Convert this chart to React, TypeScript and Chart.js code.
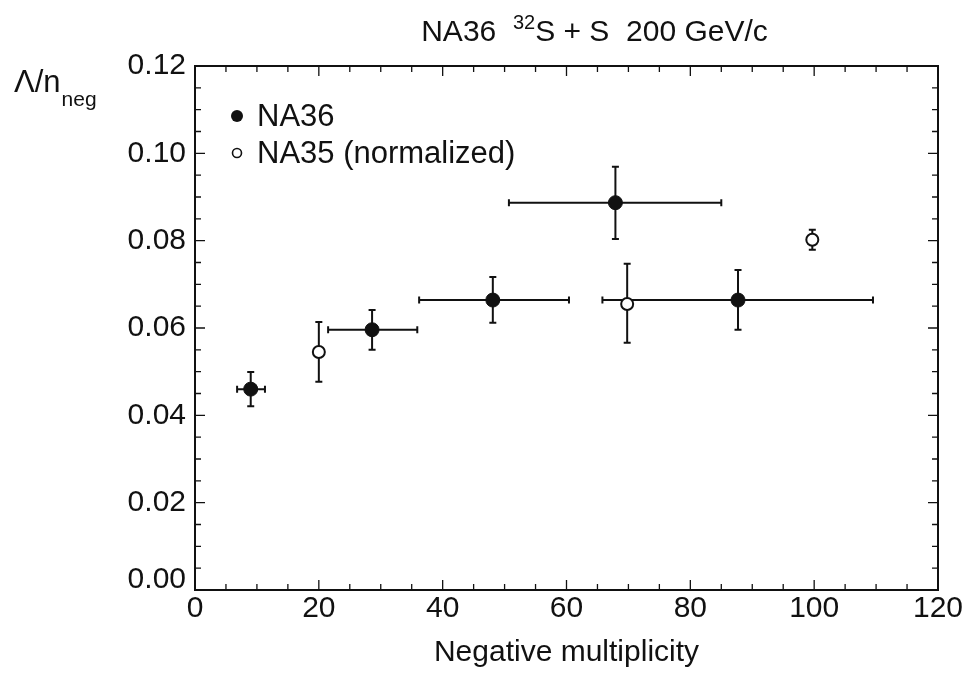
import React, { useEffect, useRef } from "react";
import { Chart, registerables } from "chart.js";
Chart.register(...registerables);

// NA36 (filled circles)
const na36X = [9.0, 28.6, 48.1, 67.9, 87.7];
const na36Y = [0.046, 0.0596, 0.0664, 0.0887, 0.0664];
const na36XLow = [6.8, 21.5, 36.2, 50.7, 65.8];
const na36XHigh = [11.3, 35.9, 60.4, 85.0, 109.5];
const na36YLow = [0.0421, 0.055, 0.0612, 0.0804, 0.0596];
const na36YHigh = [0.0499, 0.0641, 0.0717, 0.0969, 0.0733];

// NA35 normalized (open circles)
const na35X = [20.0, 69.8, 99.7];
const na35Y = [0.0545, 0.0655, 0.0802];
const na35YLow = [0.0477, 0.0566, 0.0779];
const na35YHigh = [0.0614, 0.0747, 0.0825];

const xTickValues = [0, 20, 40, 60, 80, 100, 120];
const yTickValues = [0, 0.02, 0.04, 0.06, 0.08, 0.1, 0.12];

const titleMain = "NA36";
const titleSup = "32";
const titleRest = "S + S  200 GeV/c";
const xTitle = "Negative multiplicity";
const legendLabels = ["NA36", "NA35 (normalized)"];

const FONT = "'Liberation Sans', Arial, sans-serif";
const INK = "#111";

const frameTicks = {
  id: "frameTicks",
  afterDraw(chart: any) {
    const { ctx, chartArea: a, scales } = chart;
    const xs = scales.x;
    const ys = scales.y;
    ctx.save();
    ctx.strokeStyle = INK;
    ctx.lineWidth = 2;
    ctx.strokeRect(a.left, a.top, a.right - a.left, a.bottom - a.top);
    ctx.lineWidth = 1.3;
    for (let v = 0; v <= 120; v += 5) {
      const px = xs.getPixelForValue(v);
      const len = v % 20 === 0 ? 10 : 6;
      ctx.beginPath();
      ctx.moveTo(px, a.bottom);
      ctx.lineTo(px, a.bottom - len);
      ctx.moveTo(px, a.top);
      ctx.lineTo(px, a.top + len);
      ctx.stroke();
    }
    for (let i = 0; i <= 24; i++) {
      const v = i * 0.005;
      const py = ys.getPixelForValue(v);
      const len = i % 4 === 0 ? 10 : 6;
      ctx.beginPath();
      ctx.moveTo(a.left, py);
      ctx.lineTo(a.left + len, py);
      ctx.moveTo(a.right, py);
      ctx.lineTo(a.right - len, py);
      ctx.stroke();
    }
    // y tick labels (0.00 sits slightly raised, as in the original)
    ctx.fillStyle = INK;
    ctx.font = `30px ${FONT}`;
    ctx.textAlign = "right";
    ctx.textBaseline = "middle";
    yTickValues.forEach((v) => {
      const py = ys.getPixelForValue(v);
      ctx.fillText(v.toFixed(2), a.left - 9, py - (v === 0 ? 10 : 0));
    });
    ctx.restore();
  },
};

const errorBars = {
  id: "errorBars",
  beforeDatasetsDraw(chart: any) {
    const { ctx, scales } = chart;
    const xs = scales.x;
    const ys = scales.y;
    ctx.save();
    ctx.strokeStyle = INK;
    ctx.lineWidth = 2;
    chart.data.datasets.forEach((ds: any) => {
      ds.data.forEach((p: any) => {
        const cx = xs.getPixelForValue(p.x);
        const cy = ys.getPixelForValue(p.y);
        const cap = 3.5;
        if (p.xMin !== undefined) {
          const l = xs.getPixelForValue(p.xMin);
          const r = xs.getPixelForValue(p.xMax);
          ctx.beginPath();
          ctx.moveTo(l, cy);
          ctx.lineTo(r, cy);
          ctx.moveTo(l, cy - cap);
          ctx.lineTo(l, cy + cap);
          ctx.moveTo(r, cy - cap);
          ctx.lineTo(r, cy + cap);
          ctx.stroke();
        }
        if (p.yMin !== undefined) {
          const t = ys.getPixelForValue(p.yMax);
          const b = ys.getPixelForValue(p.yMin);
          ctx.beginPath();
          ctx.moveTo(cx, t);
          ctx.lineTo(cx, b);
          ctx.moveTo(cx - cap, t);
          ctx.lineTo(cx + cap, t);
          ctx.moveTo(cx - cap, b);
          ctx.lineTo(cx + cap, b);
          ctx.stroke();
        }
      });
    });
    ctx.restore();
  },
};

const decorations = {
  id: "decorations",
  afterDraw(chart: any) {
    const { ctx, chartArea: a } = chart;
    ctx.save();
    ctx.fillStyle = INK;
    ctx.textBaseline = "alphabetic";
    // Title with superscript
    const big = `30px ${FONT}`;
    const small = `20px ${FONT}`;
    ctx.font = big;
    const w1 = ctx.measureText(titleMain + "  ").width;
    const w3 = ctx.measureText(titleRest).width;
    ctx.font = small;
    const w2 = ctx.measureText(titleSup).width;
    const total = w1 + w2 + w3;
    let x = (a.left + a.right) / 2 - total / 2 + 28;
    const base = 41;
    ctx.font = big;
    ctx.textAlign = "left";
    ctx.fillText(titleMain, x, base);
    x += w1;
    ctx.font = small;
    ctx.fillText(titleSup, x, base - 12);
    x += w2;
    ctx.font = big;
    ctx.fillText(titleRest, x, base);

    // Y label Λ/n_neg
    ctx.font = `31px ${FONT}`;
    ctx.fillText("Λ/n", 14, 92);
    const wl = ctx.measureText("Λ/n").width;
    ctx.font = `21px ${FONT}`;
    ctx.fillText("neg", 14 + wl + 1, 106);

    // Legend
    const lx = a.left + 42;
    const ly = [a.top + 50, a.top + 87];
    ctx.beginPath();
    ctx.arc(lx, ly[0], 6, 0, Math.PI * 2);
    ctx.fill();
    ctx.beginPath();
    ctx.lineWidth = 1.6;
    ctx.strokeStyle = INK;
    ctx.arc(lx, ly[1], 4.5, 0, Math.PI * 2);
    ctx.stroke();
    ctx.font = `31px ${FONT}`;
    ctx.textBaseline = "middle";
    ctx.fillText(legendLabels[0], lx + 20, ly[0] + 1);
    ctx.fillText(legendLabels[1], lx + 20, ly[1] + 1);
    ctx.restore();
  },
};

export default function App() {
  const ref = useRef<HTMLCanvasElement | null>(null);
  useEffect(() => {
    if (!ref.current) return;
    const na36Data = na36X.map((x, i) => ({
      x,
      y: na36Y[i],
      xMin: na36XLow[i],
      xMax: na36XHigh[i],
      yMin: na36YLow[i],
      yMax: na36YHigh[i],
    }));
    const na35Data = na35X.map((x, i) => ({
      x,
      y: na35Y[i],
      yMin: na35YLow[i],
      yMax: na35YHigh[i],
    }));
    const chart = new Chart(ref.current, {
      type: "scatter",
      data: {
        datasets: [
          {
            label: legendLabels[0],
            data: na36Data as any,
            pointRadius: 7,
            pointBackgroundColor: INK,
            pointBorderColor: INK,
            pointBorderWidth: 1,
          },
          {
            label: legendLabels[1],
            data: na35Data as any,
            pointRadius: 6,
            pointBackgroundColor: "#fff",
            pointBorderColor: INK,
            pointBorderWidth: 2,
          },
        ],
      },
      options: {
        responsive: false,
        animation: false,
        layout: { padding: { top: 66, right: 32, left: 0, bottom: 0 } },
        plugins: {
          legend: { display: false },
          tooltip: { enabled: false },
          title: { display: false },
        },
        scales: {
          x: {
            type: "linear",
            min: 0,
            max: 120,
            afterBuildTicks: (s: any) => {
              s.ticks = xTickValues.map((v) => ({ value: v }));
            },
            afterFit: (s: any) => {
              s.height = 85;
            },
            grid: { display: false, drawTicks: false },
            border: { display: false },
            ticks: {
              color: INK,
              font: { family: FONT, size: 30 },
              padding: 1,
              maxRotation: 0,
            },
            title: {
              display: true,
              text: xTitle,
              color: INK,
              font: { family: FONT, size: 30 },
              padding: { top: 9 },
            },
          },
          y: {
            type: "linear",
            min: 0,
            max: 0.12,
            afterBuildTicks: (s: any) => {
              s.ticks = yTickValues.map((v) => ({ value: v }));
            },
            afterFit: (s: any) => {
              s.width = 195;
            },
            grid: { display: false, drawTicks: false },
            border: { display: false },
            ticks: { display: false },
          },
        },
      },
      plugins: [errorBars, frameTicks, decorations],
    });
    return () => chart.destroy();
  }, []);
  return (
    <div style={{ position: "fixed", left: 0, top: 0, width: 970, height: 675, background: "#fff" }}>
      <canvas ref={ref} width={970} height={675} />
    </div>
  );
}
